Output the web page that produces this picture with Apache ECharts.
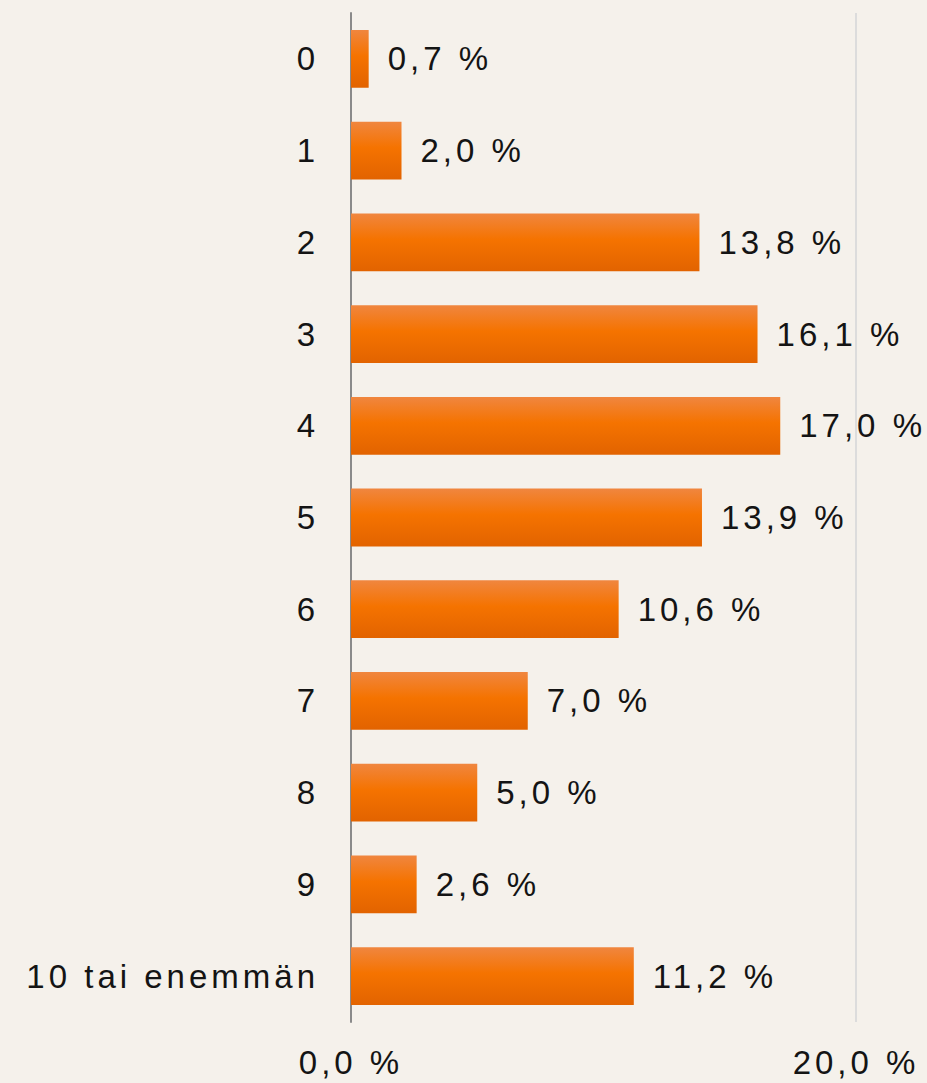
<!DOCTYPE html>
<html>
<head>
<meta charset="utf-8">
<script src="https://cdn.jsdelivr.net/npm/echarts@6/dist/echarts.min.js"></script>
<style>
  html, body { margin: 0; padding: 0; background: #f5f1eb; }
  #chart { width: 927px; height: 1083px; }
  #chart svg text { letter-spacing: 4px; }
</style>
</head>
<body>
<div id="chart"></div>
<script>
const categories = ['0', '1', '2', '3', '4', '5', '6', '7', '8', '9', '10 tai enemmän'];
const values = [0.7, 2.0, 13.8, 16.1, 17.0, 13.9, 10.6, 7.0, 5.0, 2.6, 11.2];
const axisMin = 0;
const axisMax = 20;
const axisInterval = 20;

function fmt(v) {
  return v.toFixed(1).replace('.', ',') + ' %';
}

const FONT = '"Liberation Sans", Arial, sans-serif';
const TEXT_COLOR = '#141414';

const chart = echarts.init(document.getElementById('chart'), null, { renderer: 'svg' });
chart.setOption({
  backgroundColor: '#f5f1eb',
  animation: false,
  textStyle: { fontFamily: FONT },
  grid: { left: 351, right: 71, top: 13, bottom: 61, containLabel: false },
  xAxis: {
    type: 'value',
    min: axisMin,
    max: axisMax,
    interval: axisInterval,
    axisLine: { show: false },
    axisTick: { show: false },
    splitLine: { show: true, lineStyle: { color: '#dcdcdc', width: 2 } },
    axisLabel: {
      formatter: fmt,
      fontSize: 33,
      color: TEXT_COLOR,
      margin: 24,
      fontFamily: FONT
    }
  },
  yAxis: {
    type: 'category',
    data: categories,
    inverse: true,
    axisLine: { show: true, onZero: false, lineStyle: { color: '#8a8a8a', width: 2 } },
    axisTick: { show: false },
    axisLabel: {
      fontSize: 33,
      color: TEXT_COLOR,
      margin: 32,
      fontFamily: FONT
    }
  },
  series: [{
    type: 'bar',
    data: values,
    barCategoryGap: '37%',
    itemStyle: {
      color: new echarts.graphic.LinearGradient(0, 0, 0, 1, [
        { offset: 0, color: '#f0863f' },
        { offset: 0.45, color: '#f57300' },
        { offset: 1, color: '#e26300' }
      ])
    },
    label: {
      show: true,
      position: 'right',
      distance: 19,
      formatter: p => fmt(p.value),
      fontSize: 33,
      color: TEXT_COLOR,
      fontFamily: FONT
    }
  }]
});
</script>
</body>
</html>
